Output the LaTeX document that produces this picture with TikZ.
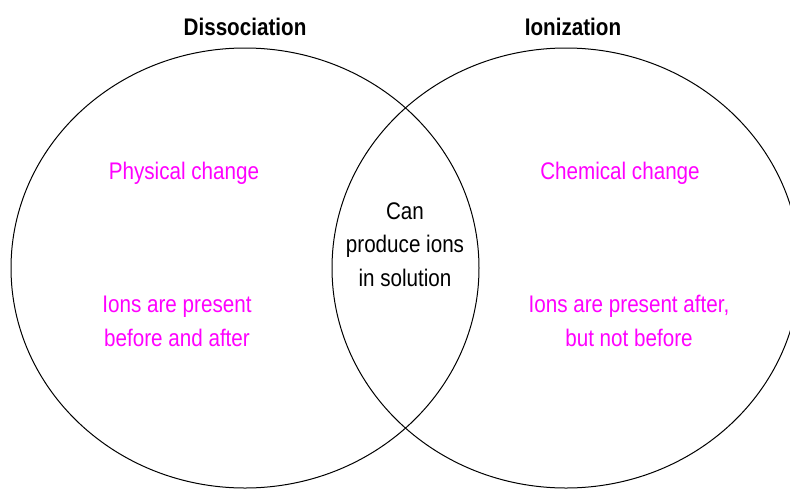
\documentclass[tikz,border=0pt]{standalone}
\usepackage{fontspec}
\setmainfont[FakeStretch=0.86]{Liberation Sans}
\usetikzlibrary{shapes.geometric, positioning}
\definecolor{factpink}{RGB}{255,0,255}

\begin{document}
\begin{tikzpicture}[
    x=1pt, y=-1pt,
    set circle/.style={
        ellipse,
        draw,
        line width=1pt,
        minimum width=468pt,
        minimum height=440pt,
    },
    set title/.style={anchor=base, font=\fontsize{24}{29}\selectfont\bfseries},
    fact/.style={anchor=base, align=center, text=factpink, font=\fontsize{24}{33.5}\selectfont},
    shared/.style={anchor=base, align=center, font=\fontsize{24}{33.5}\selectfont}
]
\useasboundingbox (0,0) rectangle (790,488);
\node[set circle] (diss) at (245,268) {};
\node[set circle] (ion) at (566,268) {};

\node[set title] (disstitle) at (245,35) {Dissociation};
\node[set title] (iontitle) at (573,35) {Ionization};

\node[fact] (physical) at (184,179) {Physical change};
\node[fact] (before) at (177,346) {Ions are present\\before and after};
\node[fact] (chemical) at (620,179) {Chemical change};
\node[fact] (after) at (629,346) {Ions are present after,\\but not before};

\node[shared] (both) at (405,286) {Can\\produce ions\\in solution};
\end{tikzpicture}
\end{document}
